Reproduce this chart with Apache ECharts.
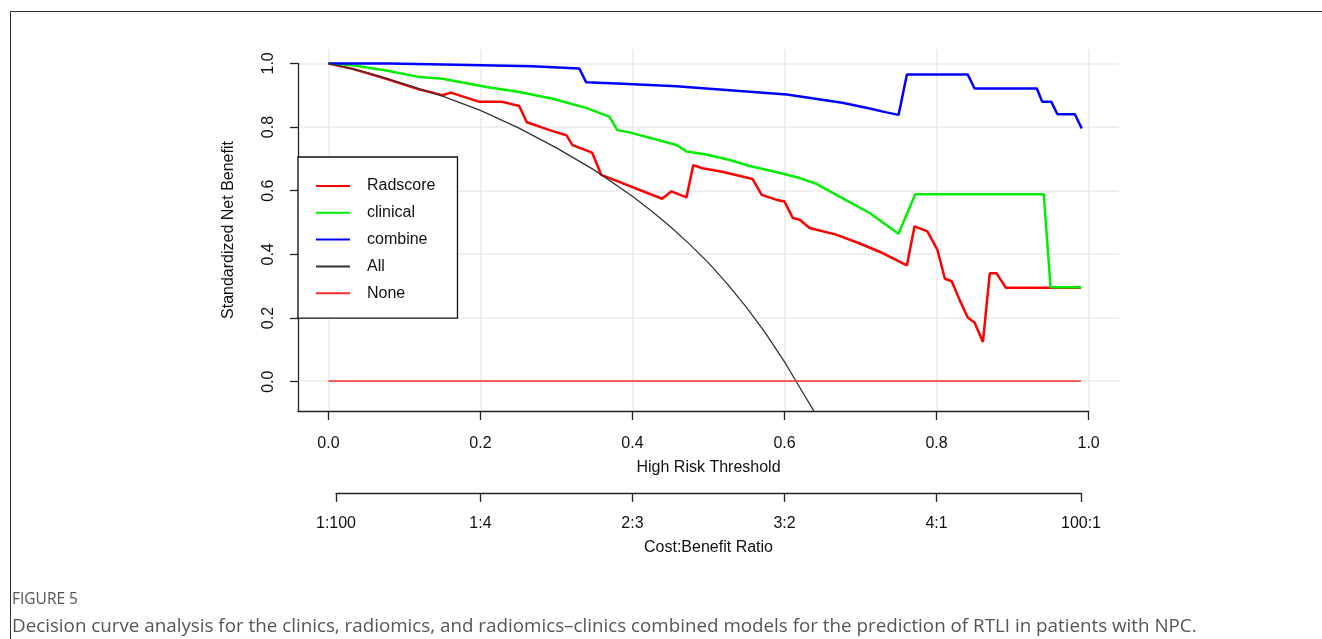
<!DOCTYPE html>
<html><head><meta charset="utf-8">
<script src="https://cdn.jsdelivr.net/npm/echarts@6/dist/echarts.min.js"></script>
<style>
html,body{margin:0;padding:0;background:#fff;}
#frame{position:absolute;left:10px;top:11px;width:1312px;height:628px;border-top:1px solid #333;border-left:1px solid #333;box-sizing:border-box;}
#chart{position:absolute;left:0;top:0;width:1322px;height:639px;}
</style></head><body>
<div id="frame"></div>
<div id="chart"></div>
<script>
// ---- data ----
const seriesNames = ['Radscore', 'clinical', 'combine', 'All', 'None'];
const radscoreData = [[0,1.0],[0.032,0.983],[0.076,0.952],[0.120,0.918],[0.142,0.905],[0.150,0.900],[0.161,0.908],[0.199,0.879],[0.229,0.879],[0.251,0.866],[0.261,0.815],[0.295,0.787],[0.313,0.774],[0.321,0.743],[0.347,0.719],[0.359,0.649],[0.439,0.574],[0.451,0.597],[0.471,0.578],[0.480,0.680],[0.492,0.670],[0.518,0.659],[0.558,0.636],[0.570,0.586],[0.589,0.571],[0.600,0.565],[0.611,0.513],[0.620,0.508],[0.633,0.482],[0.668,0.461],[0.699,0.433],[0.729,0.403],[0.761,0.364],[0.771,0.487],[0.788,0.471],[0.801,0.414],[0.811,0.322],[0.820,0.314],[0.830,0.257],[0.841,0.200],[0.850,0.184],[0.861,0.123],[0.870,0.339],[0.879,0.339],[0.891,0.294],[0.99,0.294]];
const clinicalData = [[0,1.0],[0.032,0.994],[0.076,0.978],[0.120,0.957],[0.150,0.952],[0.208,0.926],[0.251,0.910],[0.295,0.889],[0.339,0.860],[0.370,0.832],[0.380,0.790],[0.396,0.783],[0.458,0.743],[0.471,0.723],[0.497,0.713],[0.528,0.696],[0.554,0.677],[0.593,0.656],[0.620,0.639],[0.642,0.621],[0.676,0.576],[0.712,0.529],[0.750,0.464],[0.772,0.588],[0.941,0.588],[0.950,0.295],[0.99,0.295]];
const combineData = [[0,1.0],[0.08,1.0],[0.168,0.996],[0.268,0.991],[0.330,0.984],[0.339,0.941],[0.387,0.936],[0.458,0.928],[0.497,0.921],[0.541,0.913],[0.603,0.902],[0.676,0.876],[0.712,0.858],[0.734,0.846],[0.750,0.838],[0.761,0.965],[0.841,0.965],[0.850,0.921],[0.932,0.921],[0.939,0.879],[0.951,0.879],[0.959,0.840],[0.982,0.840],[0.991,0.795]];
const allData = [[0,1.0],[0.05,0.972],[0.1,0.935],[0.15,0.897],[0.2,0.852],[0.25,0.797],[0.3,0.734],[0.35,0.664],[0.4,0.582],[0.425,0.535],[0.45,0.486],[0.475,0.431],[0.5,0.372],[0.525,0.305],[0.55,0.232],[0.575,0.151],[0.6,0.06],[0.615,0.0],[0.65,-0.14]];
const noneData = [[0,0],[0.99,0]];

const thresholdTicks = [0, 0.2, 0.4, 0.6, 0.8, 1.0];
const thresholdLabels = ['0.0', '0.2', '0.4', '0.6', '0.8', '1.0'];
const benefitTicks = [0, 0.2, 0.4, 0.6, 0.8, 1.0];
const benefitLabels = ['0.0', '0.2', '0.4', '0.6', '0.8', '1.0'];
const costBenefitTicks = [0.01, 0.2, 0.4, 0.6, 0.8, 0.99];
const costBenefitLabels = ['1:100', '1:4', '2:3', '3:2', '4:1', '100:1'];

const captionLabel = 'FIGURE 5';
const captionText = 'Decision curve analysis for the clinics, radiomics, and radiomics\u2013clinics combined models for the prediction of RTLI in patients with NPC.';

// ---- chart ----
const FONT = 'Liberation Sans, Arial, sans-serif';
const AX = '#222';
function labelFor(ticks, labels) {
  return function (v) {
    for (let i = 0; i < ticks.length; i++) if (Math.abs(ticks[i] - v) < 1e-6) return labels[i];
    return '';
  };
}
const gridLine = { show: true, lineStyle: { color: '#ebebeb', width: 1.5 } };
const txt = { fontFamily: FONT, fontSize: 16, color: '#111' };

const chart = echarts.init(document.getElementById('chart'));
chart.setOption({
  animation: false,
  backgroundColor: 'transparent',
  title: [
    { text: captionLabel, left: 12, top: 592, padding: 0,
      textStyle: { fontFamily: 'Open Sans', fontSize: 15.5, fontWeight: 'normal', color: '#555' } },
    { text: captionText, left: 12, top: 617, padding: 0,
      textStyle: { fontFamily: 'Open Sans', fontSize: 18.8, fontWeight: 'normal', color: '#555' } }
  ],
  grid: [
    { left: 298, top: 49, width: 821, height: 362 },
    { left: 298, top: 63.4, width: 790.6, height: 347.6 },
    { left: 336, top: 492, width: 745, height: 1 }
  ],
  xAxis: [
    { gridIndex: 0, type: 'value', min: -0.04, max: 1.04,
      axisLine: { show: false }, axisTick: { show: false, customValues: thresholdTicks },
      axisLabel: { show: false, customValues: thresholdTicks }, splitLine: gridLine,
      name: 'High Risk Threshold', nameLocation: 'middle', nameGap: 49, nameTextStyle: txt },
    { gridIndex: 1, type: 'value', min: -0.04, max: 1.0,
      axisLine: { show: true, onZero: false, lineStyle: { color: AX, width: 1.3 } },
      axisTick: { show: true, length: 9, customValues: thresholdTicks, lineStyle: { color: AX, width: 1.3 } },
      axisLabel: { show: true, customValues: thresholdTicks, formatter: labelFor(thresholdTicks, thresholdLabels), margin: 25, ...txt },
      splitLine: { show: false } },
    { gridIndex: 2, type: 'value', min: 0.01, max: 0.99,
      axisLine: { show: true, onZero: false, lineStyle: { color: AX, width: 1.3 } },
      axisTick: { show: true, length: 9, customValues: costBenefitTicks, lineStyle: { color: AX, width: 1.3 } },
      axisLabel: { show: true, customValues: costBenefitTicks, formatter: labelFor(costBenefitTicks, costBenefitLabels), margin: 23, ...txt },
      splitLine: { show: false },
      name: 'Cost:Benefit Ratio', nameLocation: 'middle', nameGap: 47, nameTextStyle: txt }
  ],
  yAxis: [
    { gridIndex: 0, type: 'value', min: -0.0945, max: 1.0455,
      axisLine: { show: false }, axisTick: { show: false, customValues: benefitTicks },
      axisLabel: { show: false, customValues: benefitTicks }, splitLine: gridLine,
      name: 'Standardized Net Benefit', nameLocation: 'middle', nameGap: 61, nameRotate: 90, nameTextStyle: txt },
    { gridIndex: 1, type: 'value', min: -0.092, max: 1.0,
      axisLine: { show: true, onZero: false, lineStyle: { color: AX, width: 1.3 } },
      axisTick: { show: true, length: 8, customValues: benefitTicks, lineStyle: { color: AX, width: 1.3 } },
      axisLabel: { show: true, rotate: 90, customValues: benefitTicks, formatter: labelFor(benefitTicks, benefitLabels), margin: 21, ...txt },
      splitLine: { show: false } },
    { gridIndex: 2, type: 'value', min: 0, max: 1, show: false }
  ],
  legend: {
    data: seriesNames, orient: 'vertical', left: 298, top: 157,
    padding: [21, 22, 17, 17], itemWidth: 34, itemHeight: 16, itemGap: 10.8,
    borderColor: '#111', borderWidth: 1.3, backgroundColor: '#fff',
    itemStyle: { opacity: 0 },
    textStyle: { fontFamily: FONT, fontSize: 16, color: '#111', lineHeight: 16, padding: [0, 0, 0, 12] }
  },
  series: [
    { name: 'Radscore', type: 'line', data: radscoreData, xAxisIndex: 0, yAxisIndex: 0, symbol: 'none',
      lineStyle: { color: '#ff0000', width: 2.5 }, itemStyle: { color: '#ff0000' } },
    { name: 'clinical', type: 'line', data: clinicalData, xAxisIndex: 0, yAxisIndex: 0, symbol: 'none',
      lineStyle: { color: '#00ee00', width: 2.5 }, itemStyle: { color: '#00ee00' } },
    { name: 'combine', type: 'line', data: combineData, xAxisIndex: 0, yAxisIndex: 0, symbol: 'none',
      lineStyle: { color: '#0000ff', width: 2.5 }, itemStyle: { color: '#0000ff' } },
    { name: 'All', type: 'line', data: allData, xAxisIndex: 0, yAxisIndex: 0, symbol: 'none',
      lineStyle: { color: '#333333', width: 1.3 }, itemStyle: { color: '#333333' } },
    { name: 'None', type: 'line', data: noneData, xAxisIndex: 0, yAxisIndex: 0, symbol: 'none',
      lineStyle: { color: '#ff2a2a', width: 1.5 }, itemStyle: { color: '#ff2a2a' } }
  ]
});
</script>
</body></html>
